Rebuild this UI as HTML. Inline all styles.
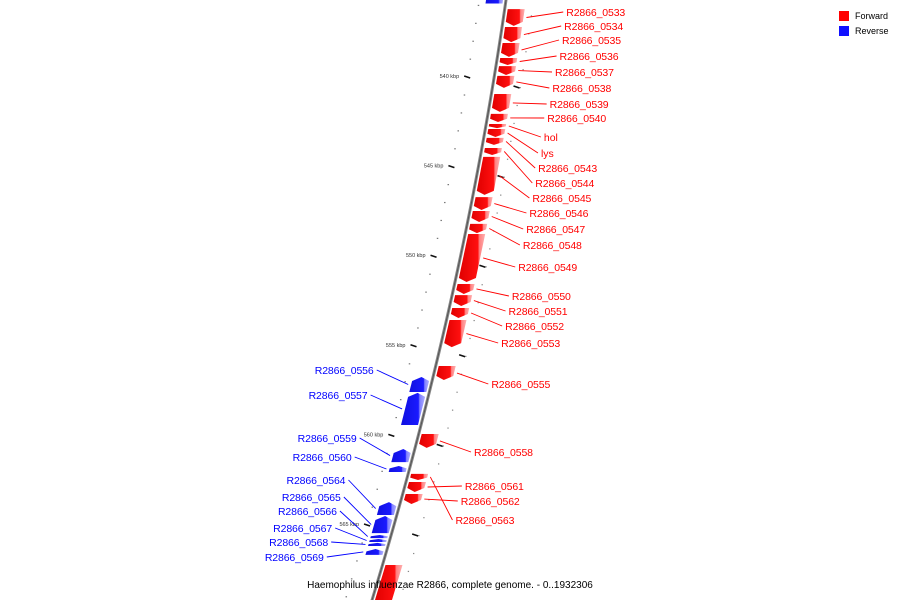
<!DOCTYPE html>
<html><head><meta charset="utf-8"><style>
html,body{margin:0;padding:0;background:#fff;width:900px;height:600px;overflow:hidden;}
svg{display:block;font-family:"Liberation Sans",sans-serif;}
</style></head><body>
<svg id="map" width="900" height="600" viewBox="0 0 900 600" xmlns="http://www.w3.org/2000/svg">
<defs>
<linearGradient id="gr" x1="0" x2="1"><stop offset="0" stop-color="#e00000"/><stop offset="0.72" stop-color="#ff1010"/><stop offset="0.78" stop-color="#ff8080"/><stop offset="1" stop-color="#ffb0b0"/></linearGradient>
<linearGradient id="gb" x1="0" x2="1"><stop offset="0" stop-color="#1010e0"/><stop offset="0.72" stop-color="#1a1aff"/><stop offset="0.78" stop-color="#8080ff"/><stop offset="1" stop-color="#b0b0ff"/></linearGradient>
</defs>
<g id="ticks"></g>
<path id="backbone" fill="none" stroke="#888" stroke-width="3"/>
<path id="backbone2" fill="none" stroke="#555" stroke-width="1"/>
<g id="genes"></g>
<g id="labels"></g>
<g>
<rect x="839" y="11" width="10" height="10" fill="#ff0000"/>
<text x="855" y="19" font-size="9" fill="#000">Forward</text>
<rect x="839" y="26" width="10" height="10" fill="#1010ff"/>
<text x="855" y="34" font-size="9" fill="#000">Reverse</text>
</g>
<text x="450" y="588" font-size="10" text-anchor="middle" fill="#000">Haemophilus influenzae R2866, complete genome. - 0..1932306</text>
</svg>
<script>
const fwdNames=["R2866_0533","R2866_0534","R2866_0535","R2866_0536","R2866_0537","R2866_0538","R2866_0539","R2866_0540","hol","lys","R2866_0543","R2866_0544","R2866_0545","R2866_0546","R2866_0547","R2866_0548","R2866_0549","R2866_0550","R2866_0551","R2866_0552","R2866_0553","R2866_0555","R2866_0558","R2866_0561","R2866_0562","R2866_0563",""];
const fwdStart=[536.21,537.21,538.10,538.94,539.39,539.94,540.95,542.06,542.62,542.90,543.40,543.96,544.46,546.70,547.48,548.20,548.76,551.55,552.17,552.89,553.56,556.13,559.92,562.60,563.27,562.15,567.23];
const fwdEnd=[537.15,538.05,538.88,539.33,539.89,540.61,541.95,542.51,542.85,543.35,543.79,544.35,546.58,547.42,548.09,548.71,551.44,552.11,552.78,553.45,555.07,556.91,560.70,563.16,563.83,562.49,569.5];
const fwdLabelY=[12,26,40,56,72,88,104,118,137,153,168,183,198,213,229,245,267,296,311,326,343,384,452,486,501,520,0];
const revNames=["","R2866_0556","R2866_0557","R2866_0559","R2866_0560","R2866_0564","R2866_0565","R2866_0566","R2866_0567","R2866_0568","R2866_0569"];
const revStart=[535.3,556.74,557.63,560.76,561.71,563.72,564.50,565.56,565.78,566.00,566.34];
const revEnd=[535.9,557.58,559.42,561.49,562.04,564.44,565.45,565.73,565.95,566.17,566.67];
const revLabelY=[0,370,395,438,457,480,497,511,528,542,557];
const majorTicks=[540,545,550,555,560,565];

const NS="http://www.w3.org/2000/svg";
function yOf(k){return 77+(k-540)*17.92;}
function bx(y){return 506-0.1433*y-0.0001333*y*y;}
function mk(tag,attrs,parent){const e=document.createElementNS(NS,tag);for(const a in attrs)e.setAttribute(a,attrs[a]);parent.appendChild(e);return e;}

let d="";for(let y=-10;y<=610;y+=5)d+=(y==-10?"M":"L")+bx(y).toFixed(2)+","+y+" ";
document.getElementById("backbone").setAttribute("d",d);
document.getElementById("backbone2").setAttribute("d",d);

const tg=document.getElementById("ticks");
for(let k=535;k<=570;k++){
  const y=yOf(k);
  const isMaj=majorTicks.includes(k);
  const x=bx(y)-27;
  if(isMaj){
    const t=mk("line",{x1:x-3,y1:y-1,x2:x+3,y2:y+1,stroke:"#111","stroke-width":1.6},tg);
    
    
    const lb=mk("text",{x:x-8,y:y+1,"font-size":5.5,"text-anchor":"end",fill:"#333"},tg);
    lb.textContent=k+" kbp";
    
    
    const yr=y+10, xr=bx(yr)+24;
    const rt=mk("line",{x1:xr-3,y1:yr-1,x2:xr+3,y2:yr+1,stroke:"#111","stroke-width":1.6},tg);
    
    
  } else {
    const t=mk("rect",{x:x-0.5,y:y-0.5,width:1.5,height:1.2,fill:"#777"},tg);
    
    
  }
  const yy=yOf(k)+10;
  const dt=mk("rect",{x:bx(yy)+27,y:yy,width:1.3,height:1.2,fill:"#888"},tg);
  
  
}

const gg=document.getElementById("genes"), lg=document.getElementById("labels");
function gene(k0,k1,fwd){
  const y0=yOf(k0),y1=yOf(k1),len=y1-y0;
  const head=Math.min(4,len*0.4);
  const i=3,o=20,m=(i+o)/2;
  let pts;
  if(fwd){
    const yh=y1-head;
    pts=[[bx(y0)+i,y0],[bx(y0)+o,y0],[bx(yh)+o,yh],[bx(y1)+m,y1],[bx(yh)+i,yh]];
  } else {
    const yh=y0+head;
    pts=[[bx(y1)-i,y1],[bx(y1)-o,y1],[bx(yh)-o,yh],[bx(y0)-m,y0],[bx(yh)-i,yh]];
  }
  mk("polygon",{points:pts.map(q=>q[0].toFixed(1)+","+q[1].toFixed(1)).join(" "),fill:fwd?"url(#gr)":"url(#gb)"},gg);
}
fwdStart.forEach((s,idx)=>{
  gene(s,fwdEnd[idx],true);
  
  
  if(!fwdNames[idx])return;
  const ym=(yOf(s)+yOf(fwdEnd[idx]))/2, ly=fwdLabelY[idx];
  const lx=bx(ly)+60+(ly<60?2:0);
  const ln=mk("line",{x1:bx(ym)+23,y1:ym,x2:lx-3,y2:ly,stroke:"#f00","stroke-width":0.9},lg);
  
  
  const t=mk("text",{x:lx,y:ly+4,"font-size":10.5,fill:"#f00"},lg);
  if(fwdNames[idx].length>4)t.setAttribute('textLength',59);
  t.textContent=fwdNames[idx];
  
  
});
revStart.forEach((s,idx)=>{
  gene(s,revEnd[idx],false);
  
  
  if(!revNames[idx])return;
  const ym=(yOf(s)+yOf(revEnd[idx]))/2, ly=revLabelY[idx];
  const lx=bx(ly)-61;
  const ln=mk("line",{x1:bx(ym)-23,y1:ym,x2:lx+3,y2:ly,stroke:"#00f","stroke-width":0.9},lg);
  
  
  const t=mk("text",{x:lx,y:ly+4,"font-size":10.5,fill:"#00f","text-anchor":"end",textLength:59},lg);
  t.textContent=revNames[idx];
  
  
});
</script>
</body></html>
